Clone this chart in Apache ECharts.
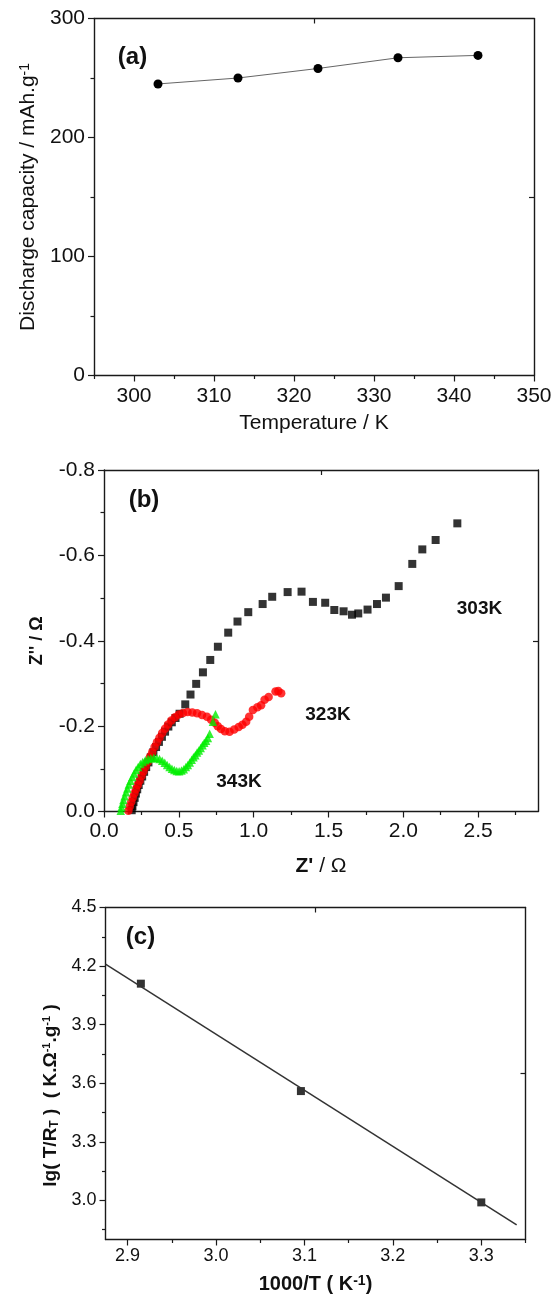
<!DOCTYPE html>
<html>
<head>
<meta charset="utf-8">
<script src="https://cdn.jsdelivr.net/npm/echarts@6/dist/echarts.min.js"></script>
<style>
html,body{margin:0;padding:0;background:#fff;}
#c{width:555px;height:1299px;}
</style>
</head>
<body>
<div id="c"></div>
<script>
// ---------- Panel (a): discharge capacity vs temperature ----------
const aTemp = [303, 313, 323, 333, 343];
const aCapacity = [245, 250, 258, 267, 269];
const aXTicks = [300, 310, 320, 330, 340, 350];
const aXMinor = [295, 305, 315, 325, 335, 345];
const aYTicks = [0, 100, 200, 300];
const aYMinor = [50, 150, 250];

// ---------- Panel (b): Nyquist plots ----------
const z303Re = [0.185,0.19,0.197,0.205,0.213,0.222,0.232,0.243,0.255,0.268,0.282,0.297,0.313,0.330,0.348,0.367,0.387,0.408,0.430,0.453,0.478,0.505,0.543,0.578,0.616,0.661,0.710,0.761,0.830,0.892,0.964,1.060,1.124,1.227,1.320,1.396,1.478,1.539,1.601,1.657,1.699,1.761,1.824,1.884,1.969,2.060,2.127,2.216,2.361];
const z303Im = [-0.003,-0.012,-0.022,-0.032,-0.042,-0.052,-0.062,-0.072,-0.082,-0.093,-0.104,-0.115,-0.127,-0.139,-0.151,-0.163,-0.175,-0.187,-0.199,-0.209,-0.219,-0.229,-0.251,-0.274,-0.299,-0.326,-0.355,-0.386,-0.419,-0.445,-0.467,-0.486,-0.503,-0.514,-0.515,-0.491,-0.489,-0.472,-0.469,-0.461,-0.464,-0.473,-0.486,-0.501,-0.528,-0.580,-0.614,-0.636,-0.675];
const z323Re = [0.163,0.172,0.182,0.192,0.203,0.214,0.226,0.238,0.251,0.264,0.278,0.292,0.307,0.322,0.338,0.354,0.371,0.389,0.408,0.428,0.450,0.474,0.500,0.528,0.558,0.590,0.622,0.655,0.688,0.716,0.740,0.760,0.782,0.808,0.839,0.870,0.900,0.925,0.950,0.970,0.995,1.025,1.050,1.073,1.100,1.146,1.165,1.184];
const z323Im = [-0.002,-0.012,-0.022,-0.032,-0.042,-0.052,-0.062,-0.072,-0.083,-0.094,-0.105,-0.116,-0.128,-0.139,-0.151,-0.162,-0.173,-0.184,-0.194,-0.204,-0.213,-0.221,-0.227,-0.231,-0.233,-0.232,-0.230,-0.226,-0.222,-0.215,-0.208,-0.200,-0.193,-0.188,-0.187,-0.192,-0.198,-0.203,-0.210,-0.222,-0.238,-0.244,-0.249,-0.262,-0.268,-0.281,-0.282,-0.277];
const z343Re = [0.112,0.117,0.123,0.130,0.138,0.147,0.156,0.166,0.177,0.189,0.201,0.214,0.228,0.243,0.259,0.276,0.294,0.313,0.333,0.352,0.371,0.389,0.406,0.422,0.438,0.454,0.470,0.486,0.502,0.518,0.533,0.547,0.560,0.573,0.586,0.598,0.610,0.622,0.634,0.646,0.658,0.670,0.682,0.694,0.706,0.728,0.745];
const z343Im = [-0.002,-0.010,-0.018,-0.027,-0.036,-0.045,-0.054,-0.063,-0.072,-0.081,-0.089,-0.097,-0.104,-0.111,-0.116,-0.120,-0.123,-0.125,-0.126,-0.125,-0.123,-0.119,-0.114,-0.109,-0.104,-0.100,-0.097,-0.095,-0.094,-0.096,-0.099,-0.104,-0.109,-0.115,-0.121,-0.127,-0.132,-0.138,-0.143,-0.149,-0.155,-0.161,-0.166,-0.172,-0.182,-0.210,-0.228];
const bXTicks = [0, 0.5, 1.0, 1.5, 2.0, 2.5];
const bXMinor = [0.25, 0.75, 1.25, 1.75, 2.25, 2.75];
const bYTicks = [-0.8, -0.6, -0.4, -0.2, 0];
const bYMinor = [-0.7, -0.5, -0.3, -0.1];

// ---------- Panel (c): Arrhenius plot ----------
const cInvT = [2.915, 3.096, 3.300];
const cLog = [4.11, 3.56, 2.99];
const cFitX = [2.875, 3.34];
const cFitY = [4.21, 2.875];
const cXTicks = [2.9, 3.0, 3.1, 3.2, 3.3];
const cXMinor = [2.95, 3.05, 3.15, 3.25, 3.35];
const cYTicks = [3.0, 3.3, 3.6, 3.9, 4.2, 4.5];
const cYMinor = [2.85, 3.15, 3.45, 3.75, 4.05, 4.35];

const FONT = "'Liberation Sans', Arial, sans-serif";
const AX = '#1a1a1a';
const zip = (a, b) => a.map((v, i) => [v, b[i]]);

const grids = [
  {left: 94, top: 18.5, width: 440, height: 357},
  {left: 104, top: 470, width: 434, height: 341.5},
  {left: 105.5, top: 907.5, width: 420, height: 332}
];

const xAxes = [], yAxes = [];
function addAxes(g, o) {
  const base = {gridIndex: g, type: 'value', min: o.min, max: o.max, splitLine: {show: false}};
  const main = Object.assign({}, base, {
    position: o.pos,
    inverse: !!o.inverse,
    axisLine: {show: true, onZero: false, lineStyle: {color: AX, width: 1.4}},
    axisTick: {show: true, inside: false, length: 6, customValues: o.ticks, lineStyle: {color: AX, width: 1.2}},
    axisLabel: {show: true, customValues: o.ticks, formatter: o.fmt, margin: o.margin,
      fontFamily: FONT, fontSize: o.fs, color: '#111'},
    name: o.name, nameLocation: 'middle', nameGap: o.nameGap,
    nameRotate: o.nameRotate, nameTextStyle: o.nameStyle
  });
  const minor = Object.assign({}, base, {
    position: o.pos, inverse: !!o.inverse,
    axisLine: {show: false, onZero: false},
    axisTick: {show: true, inside: false, length: 3.5, customValues: o.minor, lineStyle: {color: AX, width: 1.2}},
    axisLabel: {show: false}
  });
  const mirror = Object.assign({}, base, {
    position: o.pos === 'bottom' ? 'top' : 'right', inverse: !!o.inverse,
    axisLine: {show: true, onZero: false, lineStyle: {color: AX, width: 1.4}},
    axisTick: {show: true, inside: true, length: 5, customValues: [o.mid], lineStyle: {color: AX, width: 1.2}},
    axisLabel: {show: false}
  });
  const arr = o.isX ? xAxes : yAxes;
  const idx = arr.length;
  arr.push(main, minor, mirror);
  return idx;
}

// Panel a
const ax = addAxes(0, {isX: true, min: 295, max: 350, pos: 'bottom', ticks: aXTicks, minor: aXMinor, mid: 322.5,
  fmt: v => String(v), margin: 10, fs: 21,
  name: 'Temperature / K', nameGap: 37, nameStyle: {fontFamily: FONT, fontSize: 21, color: '#111'}});
const ay = addAxes(0, {isX: false, min: 0, max: 300, pos: 'left', ticks: aYTicks, minor: aYMinor, mid: 150,
  fmt: v => String(v), margin: 9, fs: 21,
  name: 'Discharge capacity / mAh.g{s|-1}', nameGap: 47, nameRotate: 90,
  nameStyle: {fontFamily: FONT, fontSize: 21, color: '#111',
    rich: {s: {fontFamily: FONT, fontSize: 14, verticalAlign: 'top', color: '#111'}}}});

// Panel b
const bx = addAxes(1, {isX: true, min: 0, max: 2.9, pos: 'bottom', ticks: bXTicks, minor: bXMinor, mid: 1.45,
  fmt: v => v.toFixed(1), margin: 9, fs: 21,
  name: "{b|Z'} / Ω", nameGap: 44,
  nameStyle: {fontFamily: FONT, fontSize: 21, color: '#111', rich: {b: {fontFamily: FONT, fontSize: 21, fontWeight: 'bold', color: '#111'}}}});
const by = addAxes(1, {isX: false, min: -0.8, max: 0, inverse: true, pos: 'left', ticks: bYTicks, minor: bYMinor, mid: -0.4,
  fmt: v => v.toFixed(1), margin: 9, fs: 21,
  name: "Z'' / Ω", nameGap: 58, nameRotate: 90,
  nameStyle: {fontFamily: FONT, fontSize: 18, fontWeight: 'bold', color: '#111'}});

// Panel c
const cx = addAxes(2, {isX: true, min: 2.875, max: 3.35, pos: 'bottom', ticks: cXTicks, minor: cXMinor, mid: 3.1125,
  fmt: v => v.toFixed(1), margin: 8, fs: 18,
  name: '1000/T ( K{s|-1})', nameGap: 35,
  nameStyle: {fontFamily: FONT, fontSize: 20, fontWeight: 'bold', color: '#111',
    rich: {s: {fontFamily: FONT, fontSize: 14, fontWeight: 'bold', verticalAlign: 'top', color: '#111'}}}});
const cy = addAxes(2, {isX: false, min: 2.8, max: 4.5, pos: 'left', ticks: cYTicks, minor: cYMinor, mid: 3.65,
  fmt: v => v.toFixed(1), margin: 9, fs: 18,
  name: 'lg( T/R{d|T} )  ( K.Ω{s|-1}.g{s|-1} )', nameGap: 45, nameRotate: 90,
  nameStyle: {fontFamily: FONT, fontSize: 19, fontWeight: 'bold', color: '#111', padding: [0, 44, 0, 0],
    rich: {
      s: {fontFamily: FONT, fontSize: 11, fontWeight: 'bold', verticalAlign: 'top', color: '#111'},
      d: {fontFamily: FONT, fontSize: 12, fontWeight: 'bold', verticalAlign: 'bottom', color: '#111'}
    }}});

const series = [
  {type: 'line', xAxisIndex: ax, yAxisIndex: ay, data: zip(aTemp, aCapacity),
   symbol: 'circle', symbolSize: 9, itemStyle: {color: '#000'}, lineStyle: {color: '#666', width: 1}},
  {type: 'scatter', xAxisIndex: bx, yAxisIndex: by, data: zip(z303Re, z303Im),
   symbol: 'rect', symbolSize: 8, itemStyle: {color: '#000'}},
  {type: 'scatter', xAxisIndex: bx, yAxisIndex: by, data: zip(z323Re, z323Im),
   symbol: 'circle', symbolSize: 8.5, itemStyle: {color: '#ff0000'}},
  {type: 'scatter', xAxisIndex: bx, yAxisIndex: by, data: zip(z343Re, z343Im),
   symbol: 'triangle', symbolSize: 8.5, itemStyle: {color: '#00ee00'}},
  {type: 'line', xAxisIndex: cx, yAxisIndex: cy, data: zip(cFitX, cFitY),
   symbol: 'none', lineStyle: {color: '#333', width: 1.5}},
  {type: 'scatter', xAxisIndex: cx, yAxisIndex: cy, data: zip(cInvT, cLog),
   symbol: 'rect', symbolSize: 8, itemStyle: {color: '#000'}}
];

function label(text, x, y, size) {
  return {type: 'text', x: x, y: y, silent: true,
    style: {text: text, align: 'center', verticalAlign: 'middle', fontFamily: FONT,
      fontSize: size, fontWeight: 'bold', fill: '#111'}};
}

const chart = echarts.init(document.getElementById('c'), null, {renderer: 'canvas'});
chart.setOption({
  animation: false,
  backgroundColor: '#fff',
  grid: grids,
  xAxis: xAxes,
  yAxis: yAxes,
  series: series,
  graphic: [
    label('(a)', 132.5, 57.5, 24),
    label('(b)', 144, 500.5, 24),
    label('(c)', 140.5, 937.5, 24),
    label('303K', 479.5, 609, 19),
    label('323K', 328, 715, 19),
    label('343K', 239, 782, 19)
  ]
});
</script>
</body>
</html>
